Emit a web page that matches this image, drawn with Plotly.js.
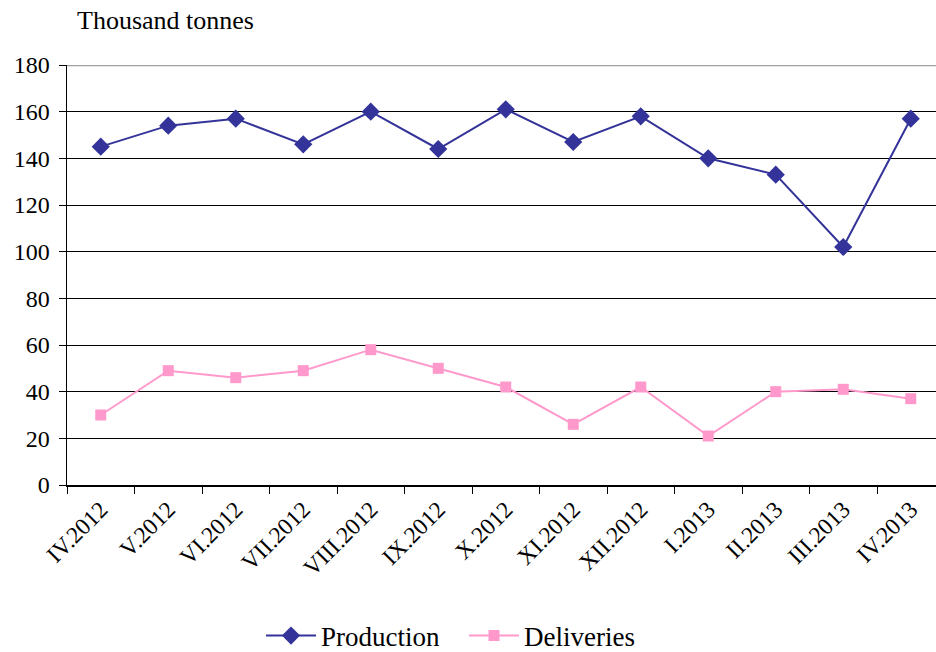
<!DOCTYPE html>
<html>
<head>
<meta charset="utf-8">
<script src="https://cdn.plot.ly/plotly-3.0.1.min.js"></script>
<style>html,body{margin:0;padding:0;background:#fff;}#chart{width:936px;height:652px;}</style>
</head>
<body>
<div id="chart"></div>
<script>
const months = ["IV.2012","V.2012","VI.2012","VII.2012","VIII.2012","IX.2012","X.2012","XI.2012","XII.2012","I.2013","II.2013","III.2013","IV.2013"];
const production = [145,154,157,146,160,144,161,147,158,140,133,102,157];
const deliveries = [30,49,46,49,58,50,42,26,42,21,40,41,37];
const yTicks = [0,20,40,60,80,100,120,140,160,180];

const font = {family: "'Times New Roman', 'Liberation Serif', serif", color: "#000"};

const traces = [
  {x: months, y: production, name: "Production", type: "scatter", mode: "lines+markers",
   line: {color: "#333399", width: 2}, marker: {symbol: "diamond", size: 14, color: "#333399"}},
  {x: months, y: deliveries, name: "Deliveries", type: "scatter", mode: "lines+markers",
   line: {color: "#FF99CC", width: 2}, marker: {symbol: "square", size: 11, color: "#FF99CC"}}
];

const layout = {
  width: 936, height: 652,
  margin: {l: 67, r: 0, t: 65, b: 167, autoexpand: false},
  paper_bgcolor: "#fff", plot_bgcolor: "#fff",
  font: Object.assign({size: 24}, font),
  title: {text: "Thousand tonnes", x: 77/936, xanchor: "left", y: 1 - 20/652, yanchor: "middle",
          font: Object.assign({size: 26}, font), automargin: false},
  showlegend: true,
  legend: {orientation: "h", x: (261 - 67) / 869, xanchor: "left", y: -151/420, yanchor: "middle",
           itemwidth: 50, entrywidth: 138, entrywidthmode: "pixels",
           font: Object.assign({size: 27}, font), bgcolor: "rgba(0,0,0,0)"},
  xaxis: {type: "category", range: [-0.5, -0.5 + 869/67.5], tickson: "boundaries",
          ticks: "outside", ticklen: 7, tickcolor: "#000", tickwidth: 1, automargin: false,
          showline: true, linecolor: "#000", linewidth: 1.5, showgrid: false,
          tickangle: -45, tickfont: Object.assign({size: 23.5}, font), zeroline: false},
  yaxis: {range: [0, 180], tickvals: yTicks, ticks: "outside", ticklen: 7, tickcolor: "#000", automargin: false,
          showline: true, linecolor: "#000", linewidth: 1.5, showgrid: true, gridcolor: "#000", gridwidth: 1,
          tickfont: Object.assign({size: 24}, font), zeroline: false, ticklabelstandoff: 4},
  shapes: [{type: "line", xref: "paper", yref: "y", x0: 0, x1: 1, y0: 180, y1: 180,
            line: {color: "#a0a0a0", width: 2.5}}]
};

Plotly.newPlot("chart", traces, layout, {displayModeBar: false, staticPlot: true});
</script>
</body>
</html>
